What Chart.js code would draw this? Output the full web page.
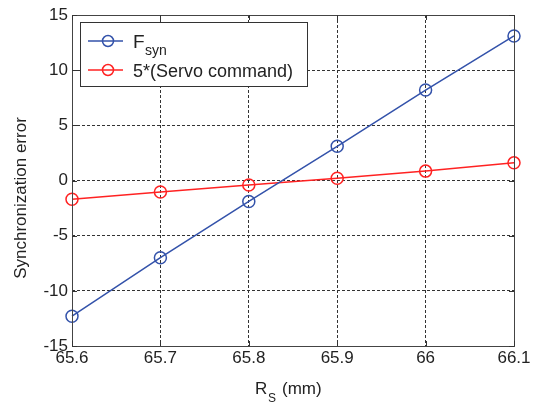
<!DOCTYPE html>
<html>
<head>
<meta charset="utf-8">
<script src="https://cdn.jsdelivr.net/npm/chart.js@4.4.0/dist/chart.umd.min.js"></script>
<style>
  html, body { margin: 0; padding: 0; background: #fff; }
  #wrap { width: 542px; height: 403px; }
</style>
</head>
<body>
<div id="wrap"><canvas id="chart" width="542" height="403"></canvas></div>
<script>
// R_s values (mm)
const rs = [65.6, 65.7, 65.8, 65.9, 66.0, 66.1];
const fsyn = [-12.3, -7.0, -1.9, 3.1, 8.2, 13.1];
const servoCmd = [-1.7, -1.05, -0.4, 0.2, 0.85, 1.6];
const xTicks = [65.6, 65.7, 65.8, 65.9, 66, 66.1];
const yTicks = [-15, -10, -5, 0, 5, 10, 15];

const blue = '#3352aa';
const red = '#ff2222';
const font = 'Liberation Sans, Arial, sans-serif';

// frame, inner ticks, axis titles and legend drawn by hand (matlab look)
const extras = {
    id: 'extras',
    afterDraw(chart) {
        const ctx = chart.ctx;
        const a = chart.chartArea;
        const sx = chart.scales.x, sy = chart.scales.y;
        ctx.save();
        ctx.strokeStyle = '#444';
        ctx.lineWidth = 1;
        ctx.setLineDash([]);
        ctx.strokeRect(a.left + 0.5, a.top + 0.5, a.right - a.left, a.bottom - a.top);

        // small inward ticks
        ctx.strokeStyle = '#333';
        ctx.beginPath();
        xTicks.forEach(v => {
            const px = Math.round(sx.getPixelForValue(v)) + 0.5;
            ctx.moveTo(px, a.bottom); ctx.lineTo(px, a.bottom - 5);
            ctx.moveTo(px, a.top); ctx.lineTo(px, a.top + 5);
        });
        yTicks.forEach(v => {
            const py = Math.round(sy.getPixelForValue(v)) + 0.5;
            ctx.moveTo(a.left, py); ctx.lineTo(a.left + 5, py);
            ctx.moveTo(a.right, py); ctx.lineTo(a.right - 5, py);
        });
        ctx.stroke();

        // x title with subscript
        ctx.fillStyle = '#222';
        ctx.textBaseline = 'alphabetic';
        ctx.textAlign = 'left';
        ctx.font = '17px ' + font;
        ctx.fillText('R', 255, 394);
        ctx.font = '12px ' + font;
        ctx.fillText('S', 268, 402);
        ctx.font = '17px ' + font;
        ctx.fillText('(mm)', 282, 394);

        // y title
        ctx.save();
        ctx.translate(26, 198);
        ctx.rotate(-Math.PI / 2);
        ctx.textAlign = 'center';
        ctx.font = '17px ' + font;
        ctx.fillText('Synchronization error', 0, 0);
        ctx.restore();

        // legend
        const lx = 80, ly = 22, lw = 227, lh = 64;
        ctx.fillStyle = '#fff';
        ctx.fillRect(lx, ly, lw, lh);
        ctx.strokeStyle = '#333';
        ctx.strokeRect(lx + 0.5, ly + 0.5, lw, lh);
        const items = [
            { color: blue, y: 41 },
            { color: red, y: 70 }
        ];
        items.forEach(it => {
            ctx.strokeStyle = it.color;
            ctx.lineWidth = 1.5;
            ctx.beginPath();
            ctx.moveTo(88, it.y);
            ctx.lineTo(123, it.y);
            ctx.stroke();
            ctx.beginPath();
            ctx.arc(108, it.y, 5.5, 0, Math.PI * 2);
            ctx.stroke();
        });
        ctx.fillStyle = '#222';
        ctx.font = '19px ' + font;
        ctx.fillText('F', 133, 48);
        ctx.font = '14px ' + font;
        ctx.fillText('syn', 145, 55);
        ctx.font = '18px ' + font;
        ctx.fillText('5*(Servo command)', 133, 77);
        ctx.restore();
    }
};

new Chart(document.getElementById('chart'), {
    type: 'line',
    data: {
        datasets: [
            {
                label: 'Fsyn',
                data: rs.map((x, i) => ({ x: x, y: fsyn[i] })),
                borderColor: blue,
                backgroundColor: 'transparent',
                borderWidth: 1.5,
                pointRadius: 6,
                pointBorderWidth: 1.5,
                pointBackgroundColor: 'transparent',
                pointBorderColor: blue,
                tension: 0
            },
            {
                label: '5*(Servo command)',
                data: rs.map((x, i) => ({ x: x, y: servoCmd[i] })),
                borderColor: red,
                backgroundColor: 'transparent',
                borderWidth: 1.5,
                pointRadius: 6,
                pointBorderWidth: 1.5,
                pointBackgroundColor: 'transparent',
                pointBorderColor: red,
                tension: 0
            }
        ]
    },
    options: {
        responsive: false,
        animation: false,
        clip: false,
        layout: { padding: { left: 0, top: 15, right: 28, bottom: 0 } },
        plugins: { legend: { display: false }, tooltip: { enabled: false } },
        scales: {
            x: {
                type: 'linear',
                min: 65.6,
                max: 66.1,
                afterBuildTicks: s => { s.ticks = xTicks.map(v => ({ value: v })); },
                afterFit: s => { s.height = 57; },
                ticks: {
                    color: '#222',
                    font: { family: font, size: 17 },
                    padding: 2,
                    maxRotation: 0,
                    callback: v => String(Math.round(v * 10) / 10)
                },
                grid: { color: '#333', drawTicks: false, lineWidth: 1 },
                border: { display: false, dash: [3, 2] }
            },
            y: {
                min: -15,
                max: 15,
                afterBuildTicks: s => { s.ticks = yTicks.map(v => ({ value: v })); },
                afterFit: s => { s.width = 72; },
                ticks: {
                    color: '#222',
                    font: { family: font, size: 17 },
                    padding: 4
                },
                grid: { color: '#333', drawTicks: false, lineWidth: 1 },
                border: { display: false, dash: [3, 2] }
            }
        }
    },
    plugins: [extras]
});
</script>
</body>
</html>
